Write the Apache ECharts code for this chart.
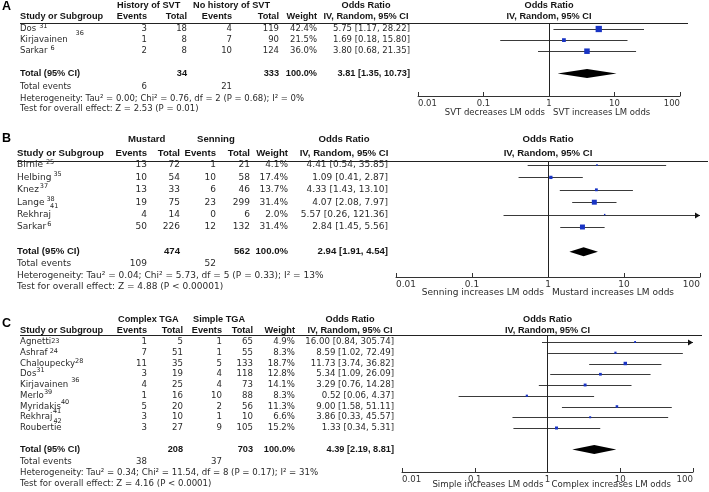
<!DOCTYPE html>
<html><head><meta charset="utf-8">
<script src="https://cdn.jsdelivr.net/npm/echarts@6/dist/echarts.min.js"></script>
<style>html,body{margin:0;padding:0;background:#fff}#c{width:709px;height:492px}</style>
</head><body><div id="c"></div>
<script>
// ---------------- DATA ----------------
const tickLabels = ['0.01', '0.1', '1', '10', '100'];
const colHeaders = ['Study or Subgroup', 'Events', 'Total', 'Events', 'Total', 'Weight'];
const orHeaders = ['Odds Ratio', 'IV, Random, 95% CI'];

// Panel A
const aGroups = ['History of SVT', 'No history of SVT'];
const aStudies = ['Dos', 'Kirjavainen', 'Sarkar'];
const aRefs = [['31'], ['36'], ['6']];
const aEv1 = [3, 1, 2];
const aTot1 = [18, 8, 8];
const aEv2 = [4, 7, 10];
const aTot2 = [119, 90, 124];
const aWeight = [42.4, 21.5, 36.0];
const aOR = [5.75, 1.69, 3.80];
const aLo = [1.17, 0.18, 0.68];
const aHi = [28.22, 15.80, 21.35];
const aTotalN = [34, 333];
const aTotalW = [100.0];
const aTotalCI = [3.81, 1.35, 10.73];
const aTotalEvents = [6, 21];
const aHet = 'Heterogeneity: Tau² = 0.00; Chi² = 0.76, df = 2 (P = 0.68); I² = 0%';
const aTest = 'Test for overall effect: Z = 2.53 (P = 0.01)';
const aCaptions = ['SVT decreases LM odds', 'SVT increases LM odds'];

// Panel B
const bGroups = ['Mustard', 'Senning'];
const bStudies = ['Birnie', 'Helbing', 'Knez', 'Lange', 'Rekhraj', 'Sarkar'];
const bRefs = [['25'], ['35'], ['37'], ['38'], ['41'], ['6']];
const bEv1 = [13, 10, 13, 19, 4, 50];
const bTot1 = [72, 54, 33, 75, 14, 226];
const bEv2 = [1, 10, 6, 23, 0, 12];
const bTot2 = [21, 58, 46, 299, 6, 132];
const bWeight = [4.1, 17.4, 13.7, 31.4, 2.0, 31.4];
const bOR = [4.41, 1.09, 4.33, 4.07, 5.57, 2.84];
const bLo = [0.54, 0.41, 1.43, 2.08, 0.26, 1.45];
const bHi = [35.85, 2.87, 13.10, 7.97, 121.36, 5.56];
const bTotalN = [474, 562];
const bTotalW = [100.0];
const bTotalCI = [2.94, 1.91, 4.54];
const bTotalEvents = [109, 52];
const bHet = 'Heterogeneity: Tau² = 0.04; Chi² = 5.73, df = 5 (P = 0.33); I² = 13%';
const bTest = 'Test for overall effect: Z = 4.88 (P < 0.00001)';
const bCaptions = ['Senning increases LM odds', 'Mustard increases LM odds'];

// Panel C
const cGroups = ['Complex TGA', 'Simple TGA'];
const cStudies = ['Agnetti', 'Ashraf', 'Chaloupecky', 'Dos', 'Kirjavainen', 'Merlo', 'Myridakis', 'Rekhraj', 'Roubertie'];
const cRefs = [['23'], ['24'], ['28'], ['31'], ['36'], ['39'], ['40', '41'], ['42'], []];
const cEv1 = [1, 7, 11, 3, 4, 1, 5, 3, 3];
const cTot1 = [5, 51, 35, 19, 25, 16, 20, 10, 27];
const cEv2 = [1, 1, 5, 4, 4, 10, 2, 1, 9];
const cTot2 = [65, 55, 133, 118, 73, 88, 56, 10, 105];
const cWeight = [4.9, 8.3, 18.7, 12.8, 14.1, 8.3, 11.3, 6.6, 15.2];
const cOR = [16.00, 8.59, 11.73, 5.34, 3.29, 0.52, 9.00, 3.86, 1.33];
const cLo = [0.84, 1.02, 3.74, 1.09, 0.76, 0.06, 1.58, 0.33, 0.34];
const cHi = [305.74, 72.49, 36.82, 26.09, 14.28, 4.37, 51.11, 45.57, 5.31];
const cTotalN = [208, 703];
const cTotalW = [100.0];
const cTotalCI = [4.39, 2.19, 8.81];
const cTotalEvents = [38, 37];
const cHet = 'Heterogeneity: Tau² = 0.34; Chi² = 11.54, df = 8 (P = 0.17); I² = 31%';
const cTest = 'Test for overall effect: Z = 4.16 (P < 0.0001)';
const cCaptions = ['Simple increases LM odds', 'Complex increases LM odds'];

// ---------------- LAYOUT ----------------
const FONT = 'DejaVu Sans';
const BFONT = 'Liberation Sans';
const TXT = '#2b2b2b';
const BLUE = '#1934c4';

const panels = [
  { letter: 'A', groups: aGroups, studies: aStudies, refs: aRefs, ev1: aEv1, tot1: aTot1, ev2: aEv2, tot2: aTot2,
    weight: aWeight, or: aOR, lo: aLo, hi: aHi, totalN: aTotalN, totalW: aTotalW, totalCI: aTotalCI, totalEvents: aTotalEvents,
    het: aHet, test: aTest, captions: aCaptions,
    L: { gridLeft: 418, gridTop: 23, gridW: 262, gridH: 73, firstY: 29, rowH: 11.1, totalR: 4,
         fs: 8.5, bfs: 9.2, letterY: 6.5, h1: 5, h2: 16, g1: 117, g2: 193,
         name: 20, ev1: 147, tot1: 187, ev2: 232, tot2: 279, w: 317, orRight: 410, orCenter: 366,
         lineX: [20, 688], foot: [13, 25, 35.5], capY: 113,
         sup: [[[3, -3]], [[8, -7]], [[3, -3]]] } },
  { letter: 'B', groups: bGroups, studies: bStudies, refs: bRefs, ev1: bEv1, tot1: bTot1, ev2: bEv2, tot2: bTot2,
    weight: bWeight, or: bOR, lo: bLo, hi: bHi, totalN: bTotalN, totalW: bTotalW, totalCI: bTotalCI, totalEvents: bTotalEvents,
    het: bHet, test: bTest, captions: bCaptions,
    L: { gridLeft: 396, gridTop: 161, gridW: 304, gridH: 116, firstY: 165, rowH: 12.4, totalR: 7,
         fs: 9, bfs: 9.6, letterY: 138.5, h1: 139.5, h2: 153, g1: 128, g2: 197,
         name: 17, ev1: 147, tot1: 180, ev2: 216, tot2: 250, w: 288, orRight: 388, orCenter: 344,
         lineX: [17, 708], foot: [12, 23.5, 35], capY: 293,
         sup: [[[3, -3]], [[2, -3]], [[1, -3]], [[2, -3]], [[-1, -8]], [[1, -3]]] } },
  { letter: 'C', groups: cGroups, studies: cStudies, refs: cRefs, ev1: cEv1, tot1: cTot1, ev2: cEv2, tot2: cTot2,
    weight: cWeight, or: cOR, lo: cLo, hi: cHi, totalN: cTotalN, totalW: cTotalW, totalCI: cTotalCI, totalEvents: cTotalEvents,
    het: cHet, test: cTest, captions: cCaptions,
    L: { gridLeft: 402, gridTop: 335, gridW: 291, gridH: 137, firstY: 342, rowH: 10.75, totalR: 10,
         fs: 8.6, bfs: 9.2, letterY: 323.5, h1: 319, h2: 330, g1: 118, g2: 193,
         name: 20, ev1: 147, tot1: 183, ev2: 222, tot2: 253, w: 295, orRight: 394, orCenter: 350,
         lineX: [20, 702], foot: [12, 23, 34], capY: 485,
         sup: [[[0, -1]], [[2, -1]], [[0, -2]], [[0, -4]], [[3, -5]], [[0, -3]], [[0, -4], [-8, 5]], [[1, 4]], []] } }
];

// ---------------- CHART ----------------
const chart = echarts.init(document.getElementById('c'), null, { renderer: 'canvas' });

const grids = [], xAxes = [], yAxes = [], series = [];
panels.forEach((p, i) => {
  const L = p.L;
  grids.push({ left: L.gridLeft, top: L.gridTop, width: L.gridW, height: L.gridH, containLabel: false });
  xAxes.push({
    type: 'log', logBase: 10, min: 0.01, max: 100, gridIndex: i, splitNumber: 4,
    axisLine: { show: true, onZero: false, lineStyle: { color: '#333', width: 1 } },
    axisTick: { show: true, inside: true, length: 4, lineStyle: { color: '#333' } },
    minorTick: { show: false }, splitLine: { show: false },
    axisLabel: {
      show: true, margin: 3, fontSize: L.fs, fontFamily: FONT, color: '#333',
      alignMinLabel: 'left', alignMaxLabel: 'right',
      formatter: v => tickLabels[Math.round(Math.log10(v)) + 2]
    }
  });
  yAxes.push({
    type: 'value', gridIndex: i, inverse: true, show: false,
    min: -(L.firstY - L.gridTop) / L.rowH,
    max: (L.gridTop + L.gridH - L.firstY) / L.rowH
  });

  series.push({
    type: 'custom', xAxisIndex: i, yAxisIndex: i, clip: false, z: 3,
    encode: { x: [0, 1], y: 2 },
    data: p.studies.map((s, k) => [p.lo[k], p.hi[k], k]),
    renderItem: function (params, api) {
      const lo = api.value(0), hi = api.value(1), r = api.value(2);
      const a = api.coord([Math.max(lo, 0.01), r]);
      const b = api.coord([Math.min(hi, 100), r]);
      const y = Math.round(a[1]) + 0.5;
      const kids = [{ type: 'line', shape: { x1: a[0], y1: y, x2: b[0], y2: y }, style: { stroke: '#3a3a3a', lineWidth: 1 } }];
      if (hi > 100) {
        kids.push({ type: 'polygon', shape: { points: [[b[0] - 5, y - 3], [b[0], y], [b[0] - 5, y + 3]] }, style: { fill: '#111' } });
      }
      return { type: 'group', children: kids };
    }
  });
  series.push({
    type: 'scatter', xAxisIndex: i, yAxisIndex: i, z: 4, symbol: 'rect',
    symbolSize: v => 1.2 + 0.12 * v[2],
    itemStyle: { color: BLUE, opacity: 1 },
    data: p.studies.map((s, k) => [p.or[k], k, p.weight[k]]),
    markLine: {
      silent: true, symbol: 'none', label: { show: false }, animation: false,
      lineStyle: { color: '#222', width: 1, type: 'solid' },
      data: [{ xAxis: 1 }]
    }
  });
  series.push({
    type: 'custom', xAxisIndex: i, yAxisIndex: i, clip: false, z: 5,
    encode: { x: [0, 1, 2], y: 3 },
    data: [[p.totalCI[0], p.totalCI[1], p.totalCI[2], L.totalR]],
    renderItem: function (params, api) {
      const r = api.value(3);
      const c = api.coord([api.value(0), r]);
      const l = api.coord([api.value(1), r]);
      const h = api.coord([api.value(2), r]);
      return { type: 'polygon', shape: { points: [[l[0], c[1]], [c[0], c[1] - 4.5], [h[0], c[1]], [c[0], c[1] + 4.5]] }, style: { fill: '#000' } };
    }
  });
});

chart.setOption({ animation: false, grid: grids, xAxis: xAxes, yAxis: yAxes, series: series });

// ---------------- TABLE TEXT ----------------
const measureCtx = document.createElement('canvas').getContext('2d');
function textW(text, size, family, weight) {
  measureCtx.font = (weight || 'normal') + ' ' + size + 'px "' + family + '"';
  return measureCtx.measureText(text).width;
}
const g = [];
function T(x, y, text, style) {
  g.push({ type: 'text', x: x, y: y, silent: true, z: 10,
    style: Object.assign({ text: String(text), fontFamily: FONT, fontSize: 8.5, fill: TXT,
      align: 'left', verticalAlign: 'middle', textAlign: 'left', textVerticalAlign: 'middle' }, style) });
}
function R(x, y, text, style) { T(x, y, text, Object.assign({ align: 'right', textAlign: 'right' }, style)); }
function Cn(x, y, text, style) { T(x, y, text, Object.assign({ align: 'center', textAlign: 'center' }, style)); }
const f2 = v => v.toFixed(2);
const ciText = (o, l, h) => f2(o) + ' [' + f2(l) + ', ' + f2(h) + ']';

panels.forEach((p, i) => {
  const L = p.L;
  const rowY = r => chart.convertToPixel({ gridIndex: i }, [1, r])[1];
  const x1 = chart.convertToPixel({ gridIndex: i }, [1, 0])[0];
  const fs = L.fs;
  const bs = { fontWeight: 'bold', fontSize: L.bfs, fontFamily: BFONT, fill: '#151515' };
  const rs = { fontSize: fs };

  T(2, L.letterY, p.letter, { fontWeight: 'bold', fontSize: 12.5, fontFamily: BFONT, fill: '#000' });
  T(L.g1, L.h1, p.groups[0], bs);
  T(L.g2, L.h1, p.groups[1], bs);
  Cn(L.orCenter, L.h1, orHeaders[0], bs);
  Cn(L.orCenter, L.h2, orHeaders[1], bs);
  Cn(x1, L.h1, orHeaders[0], bs);
  Cn(x1, L.h2, orHeaders[1], bs);
  T(L.name, L.h2, colHeaders[0], bs);
  R(L.ev1, L.h2, colHeaders[1], bs);
  R(L.tot1, L.h2, colHeaders[2], bs);
  R(L.ev2, L.h2, colHeaders[3], bs);
  R(L.tot2, L.h2, colHeaders[4], bs);
  R(L.w, L.h2, colHeaders[5], bs);
  g.push({ type: 'line', silent: true, z: 10,
    shape: { x1: L.lineX[0], y1: L.gridTop + 0.5, x2: L.lineX[1], y2: L.gridTop + 0.5 },
    style: { stroke: '#222', lineWidth: 1 } });

  p.studies.forEach((s, k) => {
    const y = rowY(k);
    T(L.name, y, s, rs);
    const nameEnd = L.name + textW(s, fs, FONT);
    (p.refs[k] || []).forEach((ref, j) => {
      const pos = L.sup[k][j];
      T(nameEnd + pos[0], y + pos[1], ref, { fontSize: 6.5, fill: '#222' });
    });
    R(L.ev1, y, p.ev1[k], rs);
    R(L.tot1, y, p.tot1[k], rs);
    R(L.ev2, y, p.ev2[k], rs);
    R(L.tot2, y, p.tot2[k], rs);
    R(L.w, y, p.weight[k].toFixed(1) + '%', rs);
    R(L.orRight, y, ciText(p.or[k], p.lo[k], p.hi[k]), rs);
  });

  const ty = rowY(L.totalR);
  T(L.name, ty, 'Total (95% CI)', bs);
  R(L.tot1, ty, p.totalN[0], bs);
  R(L.tot2, ty, p.totalN[1], bs);
  R(L.w, ty, p.totalW[0].toFixed(1) + '%', bs);
  R(L.orRight, ty, ciText(p.totalCI[0], p.totalCI[1], p.totalCI[2]), bs);

  T(L.name, ty + L.foot[0], 'Total events', rs);
  R(L.ev1, ty + L.foot[0], p.totalEvents[0], rs);
  R(L.ev2, ty + L.foot[0], p.totalEvents[1], rs);
  T(L.name, ty + L.foot[1], p.het, rs);
  T(L.name, ty + L.foot[2], p.test, rs);

  R(x1 - 4, L.capY, p.captions[0], rs);
  T(x1 + 4, L.capY, p.captions[1], rs);
});

chart.setOption({ graphic: g });
</script>
</body></html>
